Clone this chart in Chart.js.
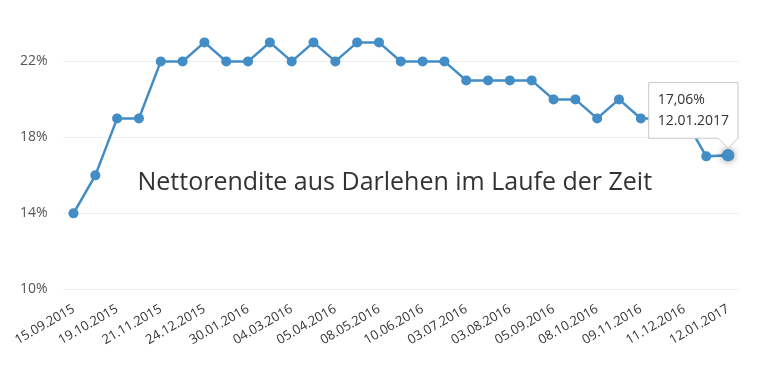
<!DOCTYPE html>
<html lang="de">
<head>
  <meta charset="UTF-8" />
  <title>Nettorendite aus Darlehen</title>
  <script src="https://cdn.jsdelivr.net/npm/chart.js"></script>
  <style>
    html, body { margin: 0; padding: 0; background: #fff; }
    #wrap { width: 758px; height: 370px; position: relative; }
  </style>
</head>
<body>
  <div id="wrap"><canvas id="chart"></canvas></div>

  <script>
    // dates of every data point (only every second one is shown on the axis)
    const dates = [
      '15.09.2015','02.10.2015','19.10.2015','05.11.2015','21.11.2015','08.12.2015',
      '24.12.2015','11.01.2016','30.01.2016','16.02.2016','04.03.2016','20.03.2016',
      '05.04.2016','21.04.2016','08.05.2016','24.05.2016','10.06.2016','22.06.2016',
      '03.07.2016','18.07.2016','03.08.2016','19.08.2016','05.09.2016','21.09.2016',
      '08.10.2016','24.10.2016','09.11.2016','25.11.2016','11.12.2016','27.12.2016',
      '12.01.2017'
    ];
    const returns = [
      14, 16, 19, 19, 22, 22, 23, 22, 22, 23, 22, 23, 22, 23, 23, 22,
      22, 22, 21, 21, 21, 21, 20, 20, 19, 20, 19, 19, 19, 17, 17.06
    ];
    const yTicks = [10, 14, 18, 22];
    const yMin = 10, yMax = 24;
    const title = 'Nettorendite aus Darlehen im Laufe der Zeit';

    const fontFamily = "'Open Sans', sans-serif";
    const blue = '#438dc6';

    const fmt = v => v.toFixed(2).replace('.', ',');

    // big caption in the middle of the plot
    const captionPlugin = {
      id: 'caption',
      beforeDatasetsDraw(chart) {
        const { ctx, chartArea } = chart;
        ctx.save();
        ctx.font = "25px " + fontFamily;
        ctx.fillStyle = '#333';
        ctx.textAlign = 'center';
        ctx.textBaseline = 'alphabetic';
        ctx.fillText(title, (chartArea.left + chartArea.right) / 2 - 6, 190);
        ctx.restore();
      }
    };

    // soft glow round the hovered point
    const glowPlugin = {
      id: 'glow',
      afterDatasetsDraw(chart) {
        const ctx = chart.ctx;
        chart.getActiveElements().forEach(a => {
          const el = a.element;
          ctx.save();
          ctx.shadowColor = 'rgba(0,0,0,0.45)';
          ctx.shadowBlur = 7;
          ctx.fillStyle = blue;
          ctx.beginPath();
          ctx.arc(el.x, el.y, 6, 0, Math.PI * 2);
          ctx.fill();
          ctx.restore();
        });
      }
    };

    const chart = new Chart(document.getElementById('chart'), {
      type: 'line',
      data: {
        labels: dates,
        datasets: [{
          data: returns,
          borderColor: blue,
          backgroundColor: blue,
          borderWidth: 2.5,
          pointRadius: 5,
          pointBackgroundColor: blue,
          pointBorderWidth: 0,
          pointHoverRadius: 6,
          pointHoverBorderWidth: 0,
          pointHoverBackgroundColor: blue,
          tension: 0,
          fill: false
        }]
      },
      options: {
        responsive: true,
        maintainAspectRatio: false,
        animation: false,
        events: [],
        layout: { padding: { top: 22, right: 19, left: 5, bottom: 18 } },
        plugins: {
          legend: { display: false },
          title: { display: false },
          tooltip: {
            enabled: true,
            xAlign: 'right',
            yAlign: 'bottom',
            backgroundColor: '#fff',
            borderColor: '#c8c8c8',
            borderWidth: 1,
            cornerRadius: 0,
            caretSize: 10,
            caretPadding: 7,
            padding: 9,
            displayColors: false,
            bodyColor: '#333',
            bodyFont: { family: fontFamily, size: 14 },
            bodySpacing: 4,
            callbacks: {
              title: () => '',
              label: ctx => [fmt(ctx.parsed.y) + '%', dates[ctx.dataIndex]]
            }
          }
        },
        scales: {
          x: {
            offset: true,
            grid: { display: false },
            border: { display: false },
            ticks: {
              autoSkip: false,
              minRotation: 30,
              maxRotation: 30,
              color: '#333',
              font: { family: fontFamily, size: 13 },
              padding: 4,
              callback: (v, i) => (i % 2 === 0 ? dates[i] : '')
            }
          },
          y: {
            min: yMin,
            max: yMax,
            afterBuildTicks: scale => { scale.ticks = yTicks.map(v => ({ value: v })); },
            grid: { color: '#eeeeee', drawTicks: false, lineWidth: 1 },
            border: { display: false },
            ticks: {
              color: '#555',
              padding: 15,
              font: { family: fontFamily, size: 14 },
              callback: v => v + '%'
            }
          }
        }
      },
      plugins: [captionPlugin, glowPlugin]
    });

    const last = [{ datasetIndex: 0, index: returns.length - 1 }];
    chart.setActiveElements(last);
    chart.tooltip.setActiveElements(last, { x: 0, y: 0 });
    chart.update();
  </script>
</body>
</html>
